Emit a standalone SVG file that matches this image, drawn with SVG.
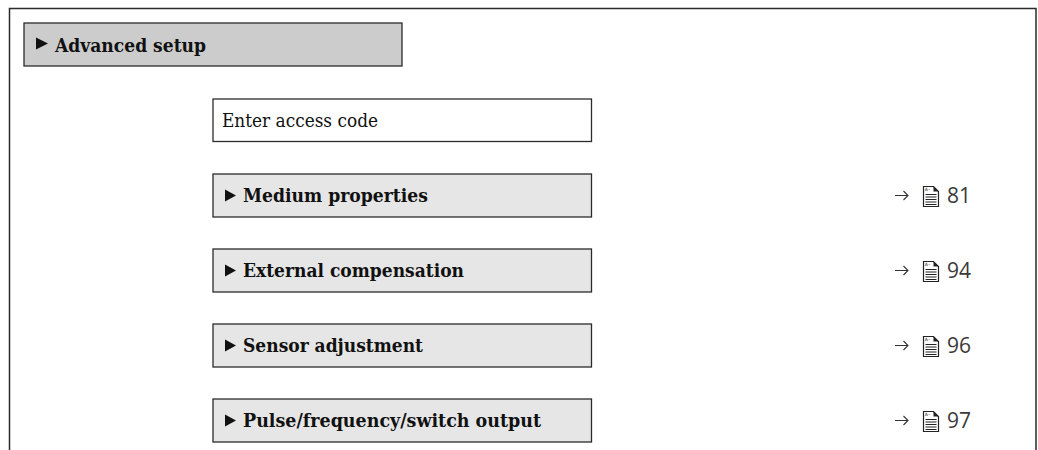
<svg xmlns="http://www.w3.org/2000/svg" width="1038" height="450" viewBox="0 0 1038 450">
<defs>
<style>
.frame{fill:none;stroke:#2b2b2b;stroke-width:1.5}
.box{stroke:#2b2b2b;stroke-width:1.3}
.main{fill:#cccccc}
.sub{fill:#e6e6e6}
.par{fill:#ffffff}
.t{font-family:"DejaVu Serif","Liberation Serif",serif;font-size:18.5px;fill:#111}
.b{font-weight:bold;font-size:19px}
.tri{fill:#111}
.ref{font-family:"Open Sans","Noto Sans",sans-serif;font-size:21px;fill:#3a3a3a}
.arr{fill:none;stroke:#333;stroke-width:1.1}
</style>
<g id="doc">
<path d="M0.5,0.5 h10 l5,5 v15 h-15 z" fill="#fff" stroke="#222" stroke-width="1.2"/>
<path d="M10.5,0.5 v5 h5 z" fill="#222"/>
<text x="1.8" y="5.2" font-family="DejaVu Sans,sans-serif" font-size="4.5" fill="#222">A–</text>
<path d="M2.5,8.5 h11 M2.5,11 h11 M2.5,13.5 h11 M2.5,16 h11 M2.5,18.5 h11" stroke="#222" stroke-width="1"/>
</g>
<path id="arrow" d="M0,0 H13 M8.5,-4.5 L13,0 L8.5,4.5"/>
</defs>
<g id="frame">
<path class="frame" d="M9.5,450 V8.5 H1036 V450"/>
</g>
<g id="node-advanced-setup">
<rect class="box main" x="24" y="23" width="378" height="43"/>
<path class="tri" d="M36,37.5 L48,43.5 L36,49.5 Z"/>
<text class="t b" x="55" y="51.5" textLength="151" lengthAdjust="spacingAndGlyphs">Advanced setup</text>
</g>
<g id="node-enter-access-code">
<rect class="box par" x="213" y="99" width="378.5" height="42.5"/>
<text class="t" x="222" y="126.5" textLength="156" lengthAdjust="spacingAndGlyphs">Enter access code</text>
</g>
<g id="node-medium-properties">
<rect class="box sub" x="213" y="174" width="378.5" height="43"/>
<path class="tri" d="M225,189.5 L236,195.5 L225,201.5 Z"/>
<text class="t b" x="243" y="202" textLength="185" lengthAdjust="spacingAndGlyphs">Medium properties</text>
<use class="arr" href="#arrow" x="895" y="195.5"/>
<use href="#doc" x="923" y="186"/>
<text class="ref" x="947" y="203">81</text>
</g>
<g id="node-external-compensation">
<rect class="box sub" x="213" y="249" width="378.5" height="43"/>
<path class="tri" d="M225,264.5 L236,270.5 L225,276.5 Z"/>
<text class="t b" x="243" y="277" textLength="221" lengthAdjust="spacingAndGlyphs">External compensation</text>
<use class="arr" href="#arrow" x="895" y="270.5"/>
<use href="#doc" x="923" y="261"/>
<text class="ref" x="947" y="278">94</text>
</g>
<g id="node-sensor-adjustment">
<rect class="box sub" x="213" y="324" width="378.5" height="43"/>
<path class="tri" d="M225,339.5 L236,345.5 L225,351.5 Z"/>
<text class="t b" x="243" y="352" textLength="180" lengthAdjust="spacingAndGlyphs">Sensor adjustment</text>
<use class="arr" href="#arrow" x="895" y="345.5"/>
<use href="#doc" x="923" y="336"/>
<text class="ref" x="947" y="353">96</text>
</g>
<g id="node-pulse-frequency-switch-output">
<rect class="box sub" x="213" y="399" width="378.5" height="43"/>
<path class="tri" d="M225,414.5 L236,420.5 L225,426.5 Z"/>
<text class="t b" x="243" y="427" textLength="298" lengthAdjust="spacingAndGlyphs">Pulse/frequency/switch output</text>
<use class="arr" href="#arrow" x="895" y="420.5"/>
<use href="#doc" x="923" y="411"/>
<text class="ref" x="947" y="428">97</text>
</g>
<g id="connectors"></g>
</svg>
